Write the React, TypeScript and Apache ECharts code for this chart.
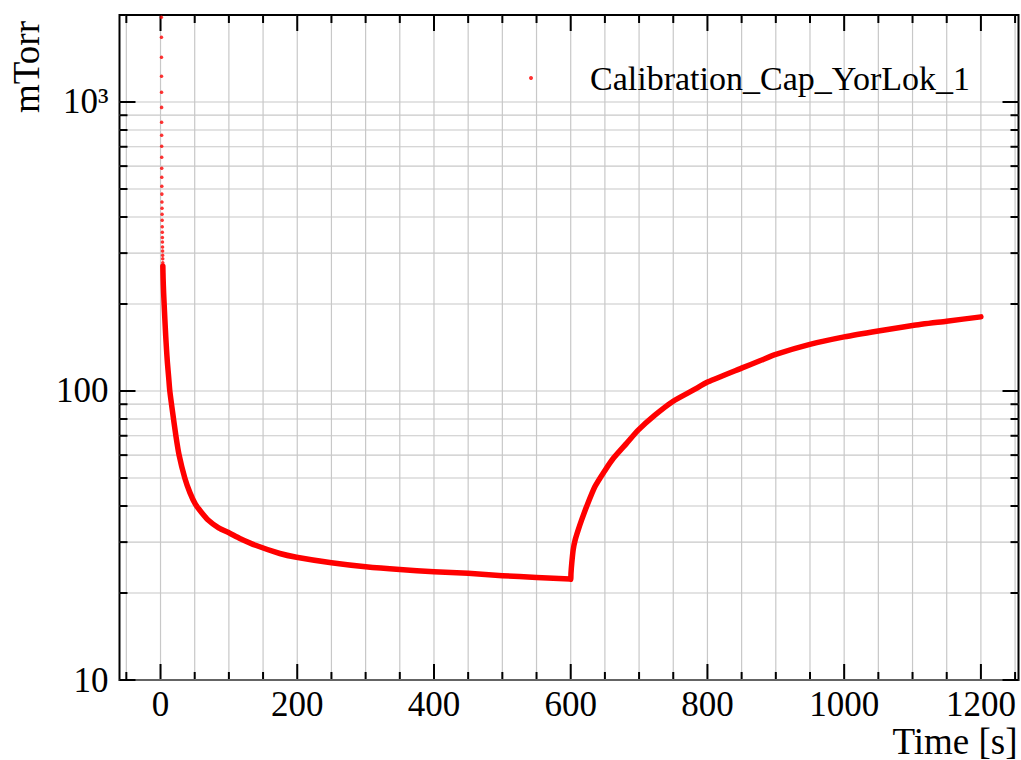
import React, { useEffect, useRef } from "react";
import * as echarts from "echarts";

const seriesName = "Calibration_Cap_YorLok_1";
const xAxisTitle = "Time [s]";
const yAxisTitle = "mTorr";

// initial burst: sparse points (s, mTorr)
const burstTime = [1.3, 1.35, 1.4, 1.45, 1.5, 1.55, 1.6, 1.65, 1.7, 1.75, 1.8, 1.85, 1.9, 2.0, 2.1, 2.2, 2.3, 2.4, 2.5, 2.6, 2.7, 2.8, 2.9, 3.0, 3.1, 3.2, 3.3];
const burstPressure = [1963, 1674, 1428, 1227, 1080, 958, 851, 767, 703, 644, 590, 549, 511, 480, 451, 429, 409, 390, 370, 354, 340, 328, 315, 305, 295, 287, 278];

// dense trace (s, mTorr)
const traceTime = [
  3.4, 3.8, 4.5, 5.3, 6.3, 7.6, 8.8, 10, 12, 13.6, 17.5, 22.5, 27.2, 35.5, 43, 51.2, 60, 69.6, 85,
  101.3, 116, 140, 174.5, 198.9, 250, 300, 350, 400, 450, 500, 550, 599, 600,
  600.4, 601.5, 603.6, 606.5, 610.9, 616, 623.2, 635.3, 649.9, 662.1, 681.7, 698.7, 723.1, 749.9, 779.1, 801,
  849.9, 876.7, 900, 949.8, 1000, 1049.8, 1100, 1149.8, 1200,
];
const tracePressure = [
  270, 245, 220, 200, 178, 155, 139, 126, 111, 100, 85, 70, 60, 50, 44.5, 40.5, 38, 35.8, 33.6,
  32.2, 30.9, 29.2, 27.4, 26.6, 25.45, 24.65, 24.1, 23.7, 23.4, 22.95, 22.65, 22.35, 22.3,
  23.4, 25.3, 28.2, 30.5, 33.0, 35.8, 39.8, 46.6, 53, 58.4, 65.9, 73.2, 82.5, 92.2, 100.7, 107.6,
  120, 127.2, 133.8, 144.9, 153.9, 161.4, 168.6, 174.4, 180.5,
];

const xLabelValues = [0, 200, 400, 600, 800, 1000, 1200];
const xMinorValues = [-50, 50, 100, 150, 250, 300, 350, 450, 500, 550, 650, 700, 750, 850, 900, 950, 1050, 1100, 1150, 1250];
const yMajorValues = [10, 100, 1000];
const yMinorValues = [20, 30, 40, 50, 60, 70, 80, 90, 200, 300, 400, 500, 600, 700, 800, 900];

const X_MIN = -60;
const X_MAX = 1255;
const Y_MIN = 10;
const Y_MAX = 2000;

const FONT = "'Liberation Serif', 'Times New Roman', serif";
const GRID_COLOR = "#c8c8c8";

function makeXTicks(len: number) {
  return (params: any, api: any) => {
    const v = api.value(0);
    const b = api.coord([v, Y_MIN]);
    const t = api.coord([v, Y_MAX]);
    return {
      type: "group",
      children: [
        { type: "line", shape: { x1: b[0], y1: b[1], x2: t[0], y2: t[1] }, style: { stroke: GRID_COLOR, lineWidth: 1.2 } },
        { type: "line", shape: { x1: b[0], y1: b[1], x2: b[0], y2: b[1] - len }, style: { stroke: "#000", lineWidth: 2 } },
        { type: "line", shape: { x1: t[0], y1: t[1], x2: t[0], y2: t[1] + len }, style: { stroke: "#000", lineWidth: 2 } },
      ],
    };
  };
}

function makeYTicks(len: number, grid: boolean) {
  return (params: any, api: any) => {
    const v = api.value(1);
    const l = api.coord([X_MIN, v]);
    const r = api.coord([X_MAX, v]);
    const children: any[] = [];
    if (grid) {
      children.push({ type: "line", shape: { x1: l[0], y1: l[1], x2: r[0], y2: r[1] }, style: { stroke: GRID_COLOR, lineWidth: 1.2 } });
    }
    children.push({ type: "line", shape: { x1: l[0], y1: l[1], x2: l[0] + len, y2: l[1] }, style: { stroke: "#000", lineWidth: 2 } });
    children.push({ type: "line", shape: { x1: r[0], y1: r[1], x2: r[0] - len, y2: r[1] }, style: { stroke: "#000", lineWidth: 2 } });
    return { type: "group", children };
  };
}

export default function App() {
  const ref = useRef<HTMLDivElement>(null);

  useEffect(() => {
    if (!ref.current) return;
    const chart = echarts.init(ref.current, null, { renderer: "svg" });

    const burst = burstTime.map((t, i) => [t, burstPressure[i]]);
    const trace = traceTime.map((t, i) => [t, tracePressure[i]]);

    chart.setOption({
      animation: false,
      backgroundColor: "#ffffff",
      grid: {
        left: 119.5,
        right: 2.5,
        top: 15,
        bottom: 80,
        containLabel: false,
        outerBoundsMode: "none",
        show: true,
        borderColor: "#000",
        borderWidth: 2,
        backgroundColor: "transparent",
      },
      legend: {
        data: [{ name: seriesName, icon: "circle" }],
        left: 529,
        top: 61,
        padding: 0,
        itemWidth: 4,
        itemHeight: 4,
        selectedMode: false,
        textStyle: { fontFamily: FONT, fontSize: 34, color: "#000", padding: [0, 0, 0, 52] },
      },
      graphic: [
        {
          type: "text",
          x: 26,
          y: 67,
          rotation: Math.PI / 2,
          silent: true,
          style: {
            text: yAxisTitle,
            font: "37px " + FONT,
            fill: "#000",
            textAlign: "center",
            textVerticalAlign: "middle",
          },
        },
        {
          type: "text",
          x: 1017.5,
          y: 741,
          silent: true,
          style: {
            text: xAxisTitle,
            font: "37px " + FONT,
            fill: "#000",
            textAlign: "right",
            textVerticalAlign: "middle",
          },
        },
      ],
      xAxis: {
        type: "value",
        min: X_MIN,
        max: X_MAX,
        axisLine: { show: false },
        axisTick: { show: false },
        splitLine: { show: false },
        axisLabel: {
          customValues: xLabelValues,
          margin: 9.5,
          lineHeight: 30,
          fontFamily: FONT,
          fontSize: 35,
          color: "#000",
          formatter: (v: number) => String(Math.round(v)),
        },
      },
      yAxis: {
        type: "log",
        logBase: 10,
        min: Y_MIN,
        max: Y_MAX,
        axisLine: { show: false },
        axisTick: { show: false },
        splitLine: { show: false },
        minorSplitLine: { show: false },
        axisLabel: {
          margin: 11,
          showMaxLabel: false,
          fontFamily: FONT,
          fontSize: 35,
          color: "#000",
          formatter: (v: number) => {
            const r = Math.round(v);
            if (Math.abs(v - r) > 1e-6 * Math.max(1, r)) return "";
            if (r === 1000) return "10³";
            if (r === 100) return "100";
            if (r === 10) return "10";
            return "";
          },
        },
      },
      series: [
        { type: "custom", name: "xMajor", silent: true, clip: false, z: 1, data: xLabelValues.map((v) => [v, Y_MIN]), renderItem: makeXTicks(16) },
        { type: "custom", name: "xMinor", silent: true, clip: false, z: 1, data: xMinorValues.map((v) => [v, Y_MIN]), renderItem: makeXTicks(8) },
        { type: "custom", name: "yMajor", silent: true, clip: false, z: 1, data: yMajorValues.map((v) => [X_MIN, v]), renderItem: makeYTicks(16, true) },
        { type: "custom", name: "yMinor", silent: true, clip: false, z: 1, data: yMinorValues.map((v) => [X_MIN, v]), renderItem: makeYTicks(8, true) },
        {
          type: "line",
          name: "trace",
          data: trace,
          showSymbol: false,
          symbol: "none",
          silent: true,
          smooth: 0.2,
          z: 3,
          lineStyle: { color: "#ff0000", width: 5.5, cap: "round", join: "round" },
          itemStyle: { color: "#ff0000" },
        },
        {
          type: "scatter",
          name: seriesName,
          data: burst.concat(trace),
          symbol: "circle",
          symbolSize: 3.5,
          z: 4,
          itemStyle: { color: "#ff0000" },
        },
      ],
    });

    return () => chart.dispose();
  }, []);

  return <div ref={ref} style={{ position: "absolute", left: 0, top: 0, width: 1021, height: 760 }} />;
}
